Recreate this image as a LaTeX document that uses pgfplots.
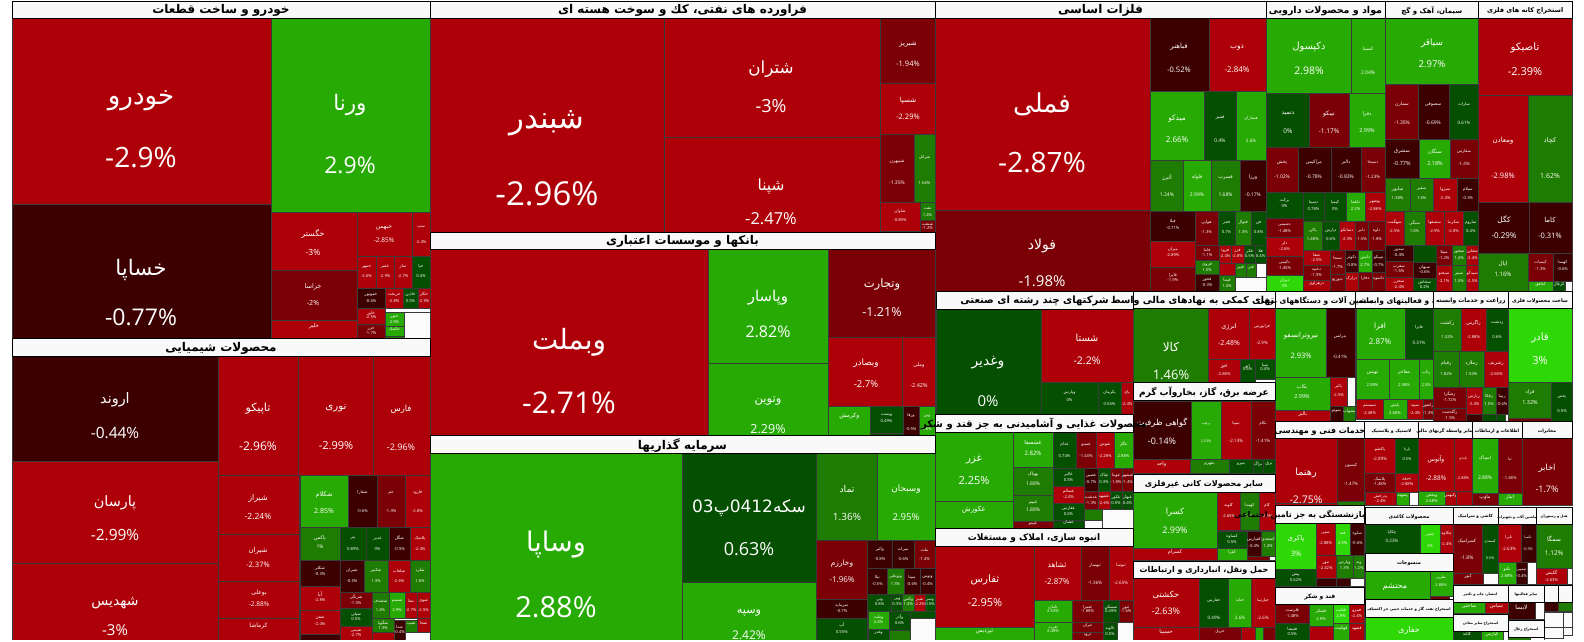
\documentclass[border=0pt]{standalone}
\usepackage{fontspec}
\usepackage{pgfplots}
\pgfplotsset{compat=1.18}
\setmainfont{Open Sans}
\newfontfamily\arabicfont[Script=Arabic]{DejaVu Sans}
\TeXXeTstate=1

\definecolor{R3}{HTML}{AE0008}
\definecolor{R2}{HTML}{7A0005}
\definecolor{R1}{HTML}{3D0000}
\definecolor{G0}{HTML}{054F00}
\definecolor{G1}{HTML}{1E7D00}
\definecolor{G2}{HTML}{27AB04}
\definecolor{G3}{HTML}{2ED806}
\definecolor{HD}{HTML}{F9F9F9}
\definecolor{WW}{HTML}{FBFBFB}
\definecolor{edge}{HTML}{3A3A3A}

\newcommand{\ar}[1]{{\arabicfont\beginR #1\endR}}
% x0 y0 x1 y1 colour
\newcommand{\Tile}[5]{\addplot[fill=#5,draw=edge,line width=.45pt,forget plot] coordinates {(#1,#2)(#3,#2)(#3,#4)(#1,#4)} --cycle;}
% xc yname ypct size name pct
\newcommand{\Lab}[6]{%
  \node[text=white,inner sep=0pt,font=\fontsize{\fpeval{0.93*#4}}{#4}\selectfont] at (axis cs:#1,{#2+0.14*#4}) {\ar{#5}};
  \node[text=white,inner sep=0pt,font=\fontsize{#4}{#4}\selectfont] at (axis cs:#1,#3) {#6};}
% small tile with its label worked out from the box
\newcommand{\Qt}[7][4.2]{%
  \Tile{#2}{#3}{#4}{#5}{#6}
  \node[text=white,inner sep=0pt,font=\fontsize{#1}{#1}\selectfont] at (axis cs:{(#2+#4)/2},{#3+0.34*(#5-#3)}) {\ar{#7}};}
% header text comes with its own \beginR ... \endR
\newcommand{\Hd}[6]{%
  \addplot[fill=HD,draw=black,line width=.8pt,forget plot] coordinates {(#1,#2)(#3,#2)(#3,#4)(#1,#4)} --cycle;
  \node[text=black,inner sep=0pt,font=\fontsize{#5}{#5}\selectfont\bfseries] at (axis cs:{(#1+#3)/2},{(#2+#4)/2+1.3}) {\arabicfont #6};}
% pct for small tiles
\newcommand{\Pc}[5][4.2]{\node[text=white,inner sep=0pt,font=\fontsize{#1}{#1}\selectfont] at (axis cs:{(#2+#3)/2},#4) {#5};}

\begin{document}
\begin{tikzpicture}
\begin{axis}[
  scale only axis, width=1584pt, height=642pt,
  xmin=0, xmax=1584, ymin=0, ymax=642, y dir=reverse,
  hide axis, clip=true
]
\addplot[fill=white,draw=none,forget plot] coordinates {(0,0)(1584,0)(1584,642)(0,642)} --cycle;

% --- khodro
\Tile{12}{18}{271}{204}{R3}\Lab{141}{97}{158}{28}{خودرو}{-2.9\%}
\Tile{271}{18}{430}{212}{G2}\Lab{350}{102}{165}{23}{ورنا}{2.9\%}
\Tile{12}{204}{271}{338}{R1}\Lab{141}{267}{317}{23}{خساپا}{-0.77\%}
\Tile{271}{212}{357}{270}{R3}\Lab{313}{233}{252}{8.5}{خگستر}{-3\%}
\Tile{357}{212}{412}{256}{R3}\Lab{384}{227}{240}{6.5}{خبهمن}{-2.85\%}
\Qt{412}{212}{430}{256}{R3}{سپ}\Pc{412}{430}{242}{-2.4\%}
\Tile{271}{270}{357}{320}{R2}\Lab{313}{286}{303}{7}{خراسا}{-2\%}
\Qt[5.5]{271}{320}{357}{338}{R3}{خلیر}
\Qt{357}{256}{376}{288}{R3}{خمهر}\Pc{357}{376}{276}{-2.6\%}
\Qt{376}{256}{394}{288}{R3}{خفنر}\Pc{376}{394}{276}{-2.9\%}
\Qt{394}{256}{412}{288}{R3}{ساز}\Pc{394}{412}{276}{-2.7\%}
\Qt{412}{256}{430}{288}{G0}{خپا}\Pc{412}{430}{276}{0.4\%}
\Qt{357}{288}{385}{308}{R1}{خموتور}\Pc{357}{385}{301}{-0.6\%}
\Qt{385}{288}{403}{308}{R3}{خریخت}\Pc{385}{403}{301}{-2.8\%}
\Qt{403}{288}{418}{308}{G0}{خاذین}\Pc{403}{418}{301}{0.5\%}
\Qt{418}{288}{430}{308}{R3}{خکار}\Pc{418}{430}{301}{-2.9\%}
\Qt{357}{308}{385}{324}{R3}{خاور}\Pc{357}{385}{317}{-2.5\%}
\Qt{357}{324}{385}{338}{R2}{خزر}\Pc{357}{385}{333}{-1.7\%}
\Qt{385}{312}{404}{326}{G2}{ختور}\Pc{385}{404}{322}{2.9\%}
\Qt{385}{326}{404}{336}{G2}{خکمك}
\Tile{385}{336}{404}{338}{G1}
\Tile{404}{312}{430}{338}{WW}

% --- chemicals
\Tile{12}{356}{218}{461}{R1}\Lab{115}{398}{433}{15.5}{اروند}{-0.44\%}
\Tile{12}{461}{218}{563}{R3}\Lab{115}{501}{535}{15.5}{پارسان}{-2.99\%}
\Tile{12}{563}{218}{640}{R3}\Lab{115}{601}{630}{15}{شهدیس}{-3\%}
\Tile{218}{356}{298}{475}{R3}\Lab{258}{407}{446}{12}{تاپیکو}{-2.96\%}
\Tile{298}{356}{373}{475}{R3}\Lab{336}{407}{446}{11}{نوری}{-2.99\%}
\Tile{373}{356}{430}{475}{R3}\Lab{401}{408}{447}{9}{فارس}{-2.96\%}
\Tile{218}{475}{299}{534}{R3}\Lab{258}{497}{516}{8.5}{شیراز}{-2.24\%}
\Tile{218}{534}{299}{581}{R3}\Lab{258}{550}{565}{7.5}{شیران}{-2.37\%}
\Tile{218}{581}{299}{618}{R3}\Lab{259}{592}{604}{6.5}{بوعلی}{-2.88\%}
\Qt[6]{218}{618}{299}{640}{R3}{کرماشا}
\Tile{300}{475}{348}{527}{G2}\Lab{324}{494}{511}{7}{شکلام}{2.85\%}
\Qt{348}{475}{377}{527}{R1}{شفارا}\Pc{348}{377}{511}{-0.6\%}
\Qt{377}{475}{405}{527}{R2}{جم}\Pc{377}{405}{511}{-1.3\%}
\Qt{405}{475}{430}{527}{R3}{فارود}\Pc{405}{430}{511}{-2.8\%}
\Qt[5]{300}{527}{340}{560}{G1}{پاکس}\Pc[5]{300}{340}{547}{1\%}
\Qt{340}{527}{366}{560}{G0}{پتر}\Pc{340}{366}{549}{0.89\%}
\Qt{366}{527}{389}{560}{G0}{غدیر}\Pc{366}{389}{549}{0\%}
\Qt{389}{527}{410}{560}{R1}{شگل}\Pc{389}{410}{549}{-0.5\%}
\Qt{410}{527}{430}{560}{R3}{پلاسک}\Pc{410}{430}{549}{-2.4\%}
\Qt{300}{560}{340}{586}{R1}{شکلر}\Pc{300}{340}{574}{-0.3\%}
\Qt{340}{560}{364}{592}{R1}{شیران}\Pc{340}{364}{581}{-0.5\%}
\Qt{364}{560}{388}{592}{G1}{شکبیر}\Pc{364}{388}{581}{1.3\%}
\Qt{388}{560}{410}{592}{R3}{شلعاب}\Pc{388}{410}{581}{-2.6\%}
\Qt{410}{560}{430}{592}{G1}{شلرد}\Pc{410}{430}{581}{1.6\%}
\Qt[5]{300}{586}{340}{610}{R3}{آبا}\Pc{300}{340}{600}{-2.8\%}
\Qt{300}{610}{340}{634}{R3}{شفن}\Pc{300}{340}{624}{-2.4\%}
\Tile{300}{634}{340}{640}{R1}
\Qt{340}{592}{372}{608}{R2}{شرنگی}\Pc{340}{372}{603}{-1.5\%}
\Qt{340}{608}{372}{626}{G0}{شپلی}\Pc{340}{372}{619}{0.5\%}
\Qt{340}{626}{372}{640}{R3}{شیمی}\Pc{340}{372}{635}{-2.7\%}
\Qt{372}{592}{389}{618}{G1}{شصدف}\Pc{372}{389}{610}{1.4\%}
\Qt{389}{592}{405}{618}{G2}{شسم}\Pc{389}{405}{610}{2.9\%}
\Qt{405}{592}{417}{618}{R3}{نشا}\Pc{405}{417}{610}{-2.7\%}
\Qt{417}{592}{430}{618}{R3}{شوی}\Pc{417}{430}{610}{-2.5\%}
\Qt{372}{618}{394}{632}{G1}{شگویا}\Pc{372}{394}{628}{1.3\%}
\Tile{372}{632}{394}{640}{R3}
\Qt{394}{620}{405}{640}{R1}{شدا}\Pc{394}{405}{632}{-0.4\%}
\Qt{405}{620}{417}{632}{G1}{شیب}
\Qt{417}{618}{430}{632}{R3}{شجا}
\Tile{405}{632}{430}{640}{WW}

% --- oil products
\Tile{430}{18}{664}{232}{R3}\Lab{547}{119}{194}{33}{شبندر}{-2.96\%}
\Tile{664}{18}{880}{137}{R3}\Lab{771}{67}{106}{18}{شتران}{-3\%}
\Tile{664}{137}{880}{232}{R3}\Lab{771}{184}{219}{16.5}{شپنا}{-2.47\%}
\Tile{880}{18}{935}{83}{R2}\Lab{908}{43}{64}{7.5}{شبریز}{-1.94\%}
\Tile{880}{83}{935}{134.5}{R3}\Lab{908}{100}{117}{7.5}{شسپا}{-2.29\%}
\Tile{880}{134.5}{914}{202}{R2}\Lab{897}{161}{183}{5}{شیبهرن}{-1.35\%}
\Qt{914}{134.5}{935}{202}{G1}{شرانل}\Pc{914}{935}{183}{1.66\%}
\Qt{880}{202}{920}{231}{R3}{شاوان}\Pc{880}{920}{220}{-0.89\%}
\Qt{920}{202}{935}{220}{G1}{نفت}\Pc{920}{935}{215}{1.4\%}
\Qt{920}{220}{935}{232}{R2}{شنفت}\Pc{920}{935}{228}{-1.2\%}

% --- banks
\Tile{430}{249}{708}{435}{R3}\Lab{569}{338}{403}{30}{وبملت}{-2.71\%}
\Tile{708}{249}{828.5}{363}{G2}\Lab{768}{295}{332}{16}{وپاسار}{2.82\%}
\Tile{708}{363}{828.5}{435}{G2}\Lab{768}{399}{429}{12.5}{وتوین}{2.29\%}
\Tile{828.5}{249}{935}{337}{R2}\Lab{882}{283}{312}{12.5}{وتجارت}{-1.21\%}
\Tile{828.5}{337}{902.5}{406}{R3}\Lab{866}{362}{384}{9.5}{وبصادر}{-2.7\%}
\Tile{902.5}{337}{935}{406}{R3}\Lab{919}{364}{386}{5.5}{وملی}{-2.42\%}
\Qt[6]{828.5}{406}{870}{435}{G2}{وکرمش}
\Qt{870}{406}{903}{433}{G0}{وپست}\Pc{870}{903}{421}{0.49\%}
\Tile{870}{433}{903}{435}{G0}
\Qt{903}{406}{919}{435}{R1}{ورفا}\Pc{903}{919}{429}{-0.5\%}
\Qt{919}{406}{935}{435}{G2}{وبن}\Pc{919}{935}{429}{2.6\%}

% --- investment
\Tile{430}{453}{682}{640}{G2}\Lab{556}{540}{607}{29}{وساپا}{2.88\%}
\Tile{682}{453}{816}{582}{G0}
\node[text=white,inner sep=0pt,font=\fontsize{17}{18}\selectfont] at (axis cs:749,508) {{\arabicfont\beginR سکه\beginL 0412\endL{}پ\beginL 03\endL{}\endR}};
\node[text=white,inner sep=0pt,font=\fontsize{18}{18}\selectfont] at (axis cs:749,549) {0.63\%};
\Tile{682}{582}{816}{640}{G2}\Lab{749}{611}{635}{12}{وسپه}{2.42\%}
\Tile{816}{453}{877}{540}{G1}\Lab{847}{488}{517}{10}{تماد}{1.36\%}
\Tile{877}{453}{935}{540}{G2}\Lab{906}{488}{517}{9.5}{وسبحان}{2.95\%}
\Tile{816}{540}{867.7}{599}{R2}\Lab{842}{562}{580}{8}{وخارزم}{-1.96\%}
\Qt{867.7}{540}{892}{568}{R1}{والبر}\Pc{867.7}{892}{559}{-0.8\%}
\Qt{892}{540}{914}{568}{R1}{میراث}\Pc{892}{914}{559}{-0.6\%}
\Qt{914}{540}{935}{568}{R2}{ملت}\Pc{914}{935}{559}{-1.4\%}
\Qt{867.7}{568}{887}{594}{R1}{نیلا}\Pc{867.7}{887}{584}{-0.5\%}
\Qt{887}{568}{904}{594}{G1}{وبوعلی}\Pc{887}{904}{584}{1.3\%}
\Qt{904}{568}{920}{594}{R1}{سیتا}\Pc{904}{920}{584}{-0.6\%}
\Qt{920}{568}{935}{594}{R1}{وتوس}\Pc{920}{935}{584}{-0.4\%}
\Qt{816}{599}{867.7}{618}{R1}{سرمایه}\Pc{816}{867.7}{611}{-0.7\%}
\Qt{816}{618}{867.7}{640}{G0}{آپ}\Pc{816}{867.7}{632}{0.55\%}
\Qt{867.7}{594}{891.6}{611}{G0}{وتی}\Pc{867.7}{891.6}{604}{0.8\%}
\Qt{891.6}{594}{902.7}{611}{G0}{وپی}\Pc{891.6}{902.7}{604}{0.3\%}
\Qt{902.7}{594}{914}{611}{G1}{وکس}\Pc{902.7}{914}{604}{1.4\%}
\Qt{914}{594}{925}{611}{R3}{شیر}\Pc{914}{925}{604}{-2.2\%}
\Qt{925}{594}{935}{611}{G0}{وسر}\Pc{925}{935}{604}{0.5\%}
\Qt{868}{611}{889}{629}{G2}{وملت}\Pc{868}{889}{622}{2.4\%}
\Qt{868}{629}{889}{640}{G0}{وغدر}
\Qt{889}{611}{910}{630}{G0}{وآذر}\Pc{889}{910}{623}{0.6\%}
\Tile{889}{630}{910}{640}{G1}
\Tile{910}{611}{935}{618}{G0}
\Tile{910}{618}{935}{640}{WW}

% --- base metals
\Tile{935}{18}{1150.7}{210}{R3}\Lab{1042}{100}{163}{28}{فملی}{-2.87\%}
\Tile{935}{210}{1150.7}{291}{R2}\Lab{1042}{244}{281}{15}{فولاد}{-1.98\%}
\Tile{1150.7}{18}{1209}{91}{R1}\Lab{1179}{46}{70}{7.5}{فباهنر}{-0.52\%}
\Tile{1209}{18}{1266}{91}{R3}\Lab{1237}{46}{70}{8}{ذوب}{-2.84\%}
\Tile{1150.7}{91}{1204}{160}{G2}\Lab{1177}{117}{140}{8}{میدکو}{2.66\%}
\Tile{1204}{91}{1236.5}{160}{G0}\Lab{1220}{117}{141}{5}{فمیر}{0.4\%}
\Tile{1236.5}{91}{1266}{160}{G2}\Lab{1251}{118}{141}{4.5}{فسازان}{2.6\%}
\Qt[5]{1150.7}{160}{1183}{211}{G1}{آلبرز}\Pc[5]{1150.7}{1183}{195}{1.24\%}
\Qt[5]{1183}{160}{1211}{211}{G2}{فلوله}\Pc[5]{1183}{1211}{195}{2.99\%}
\Qt[5]{1211}{160}{1240}{211}{G1}{فسرب}\Pc[5]{1211}{1240}{195}{1.68\%}
\Qt[5]{1240}{160}{1266}{211}{R1}{ورزا}\Pc[5]{1240}{1266}{195}{-0.17\%}
\Qt{1150.7}{211}{1195}{241}{R1}{فیلا}\Pc{1150.7}{1195}{228}{-0.71\%}
\Qt{1150.7}{241}{1195}{267}{R3}{میزان}\Pc{1150.7}{1195}{255}{-2.89\%}
\Qt{1150.7}{267}{1195}{291}{R2}{فایرا}\Pc{1150.7}{1195}{280}{-1.9\%}
\Qt{1195}{211}{1218}{245}{R2}{هوایی}\Pc{1195}{1218}{232}{-1.3\%}
\Qt{1218}{211}{1235}{245}{G0}{فجر}\Pc{1218}{1235}{232}{0.7\%}
\Qt{1235}{211}{1251}{245}{G1}{فنوال}\Pc{1235}{1251}{232}{1.3\%}
\Qt{1251}{211}{1266}{245}{G0}{فن}\Pc{1251}{1266}{232}{0.8\%}
\Qt{1195}{245}{1219}{260}{R2}{فاما}\Pc{1195}{1219}{255}{-1.1\%}
\Qt{1195}{260}{1219}{274}{G1}{فروی}\Pc{1195}{1219}{270}{1.5\%}
\Qt{1195}{274}{1219}{291}{R1}{فخوز}\Pc{1195}{1219}{285}{-0.3\%}
\Qt{1219}{245}{1231}{263}{R3}{فرود}\Pc{1219}{1231}{256}{-2.4\%}
\Qt{1231}{245}{1244}{263}{R3}{فزر}\Pc{1231}{1244}{256}{-2.8\%}
\Qt{1244}{245}{1255}{263}{G0}{فکر}\Pc{1244}{1255}{256}{0.5\%}
\Qt{1255}{245}{1266}{263}{G0}{فلا}\Pc{1255}{1266}{256}{0.4\%}
\Tile{1219}{263}{1235}{275}{R3}
\Qt{1219}{275}{1235}{291}{G1}{فپنتا}\Pc{1219}{1235}{286}{1.4\%}
\Qt{1235}{263}{1246}{277}{G1}{فبیر}
\Qt{1246}{263}{1256}{277}{G1}{فنر}
\Tile{1256}{263}{1266}{277}{WW}
\Tile{1235}{277}{1266}{291}{WW}

% --- pharma
\Tile{1266}{18}{1351.7}{93}{G2}\Lab{1309}{46}{71}{10.5}{دکپسول}{2.98\%}
\Tile{1351.7}{18}{1385}{93}{G2}\Lab{1368}{48}{73}{5}{کسینا}{2.04\%}
\Tile{1266}{93}{1309}{147}{G0}\Lab{1288}{113}{131}{6.5}{دتمید}{0\%}
\Tile{1309}{93}{1349}{147}{R2}\Lab{1329}{113}{131}{6.5}{نیبکو}{-1.17\%}
\Tile{1349}{93}{1385}{147}{G2}\Lab{1367}{113}{131}{5.5}{دفرا}{2.99\%}
\Tile{1266}{147}{1298}{192}{R2}\Lab{1282}{162}{177}{5}{پخش}{-1.02\%}
\Tile{1298}{147}{1331}{192}{R1}\Lab{1314}{162}{177}{5}{مراکیس}{-0.78\%}
\Tile{1331}{147}{1361.5}{192}{R1}\Lab{1346}{162}{177}{5}{دالبر}{-0.83\%}
\Tile{1361.5}{147}{1385}{192}{R2}\Lab{1373}{162}{177}{4.5}{دسبحا}{-1.23\%}
\Qt{1266}{192}{1303}{218}{G0}{برکت}\Pc{1266}{1303}{206}{0\%}
\Qt{1303}{192}{1324}{221}{G0}{دسینا}\Pc{1303}{1324}{209}{0.78\%}
\Qt{1324}{192}{1346}{221}{G0}{کیمیا}\Pc{1324}{1346}{209}{0\%}
\Qt{1346}{192}{1365}{221}{G2}{دلقما}\Pc{1346}{1365}{209}{2.2\%}
\Qt{1365}{192}{1385}{221}{R3}{بوشهر}\Pc{1365}{1385}{209}{-2.88\%}
\Qt{1266}{218}{1303}{237}{R2}{دشیمی}\Pc{1266}{1303}{231}{-1.48\%}
\Qt{1266}{237}{1303}{256}{R3}{دلر}\Pc{1266}{1303}{249}{-2.6\%}
\Qt{1266}{256}{1303}{275}{R2}{دکیمی}\Pc{1266}{1303}{268}{-1.45\%}
\Qt{1266}{275}{1303}{291}{G3}{دیران}\Pc{1266}{1303}{286}{3\%}
\Qt{1303}{221}{1322.7}{250}{G1}{پاکی}\Pc{1303}{1322.7}{239}{1.48\%}
\Qt{1322.7}{221}{1339}{250}{G0}{دپارس}\Pc{1322.7}{1339}{239}{0.6\%}
\Qt{1339}{221}{1355}{250}{R3}{دسانکو}\Pc{1339}{1355}{239}{-2.3\%}
\Qt{1355}{221}{1368}{250}{R2}{دلبر}\Pc{1355}{1368}{239}{-1.5\%}
\Qt{1368}{221}{1385}{250}{R2}{داوه}\Pc{1368}{1385}{239}{-1.8\%}
\Qt{1303}{250}{1330}{265}{R3}{شفا}\Pc{1303}{1330}{260}{-2.5\%}
\Qt{1303}{265}{1330}{280}{R2}{دعبید}\Pc{1303}{1330}{275}{-1.9\%}
\Qt{1303}{280}{1330}{291}{R3}{دزهراوی}
\Qt{1330}{250}{1345}{274}{R2}{سبحا}\Pc{1330}{1345}{267}{-1.7\%}
\Qt{1345}{250}{1358.3}{272}{R1}{دکوثر}\Pc{1345}{1358.3}{265}{-0.8\%}
\Qt{1358.3}{250}{1372}{272}{G2}{دامین}\Pc{1358.3}{1372}{265}{2.7\%}
\Qt{1372}{250}{1385}{272}{R1}{تیپیکو}\Pc{1372}{1385}{265}{-0.7\%}
\Qt{1330}{274}{1345}{291}{R2}{دتوزیع}
\Qt{1345}{272}{1358.3}{291}{R3}{درازک}
\Qt{1358.3}{272}{1372}{291}{R2}{دفارا}
\Qt{1372}{272}{1385}{291}{R2}{داسوه}

% --- cement
\Tile{1385}{18}{1478.5}{84}{G2}\Lab{1432}{42}{64}{9.5}{سیاقر}{2.97\%}
\Tile{1385}{84}{1418}{139}{R2}\Lab{1402}{104}{123}{5}{سمازن}{-1.35\%}
\Tile{1418}{84}{1449}{139}{R1}\Lab{1433}{104}{123}{5}{سصوفی}{-0.69\%}
\Tile{1449}{84}{1478.5}{139}{G0}\Lab{1464}{104}{123}{4.5}{سارات}{0.61\%}
\Tile{1385}{139}{1419}{178}{R1}\Lab{1402}{151}{164}{5.5}{سشرق}{-0.77\%}
\Tile{1419}{139}{1450}{178}{G2}\Lab{1435}{151}{164}{5.5}{سنگان}{2.18\%}
\Tile{1450}{139}{1478.5}{178}{R2}\Lab{1464}{151}{164}{4.5}{سفارس}{-1.4\%}
\Qt[4.8]{1385}{178}{1410}{211}{G1}{سایور}\Pc{1385}{1410}{198}{1.38\%}
\Qt{1410}{178}{1433.5}{211}{G1}{سفیر}\Pc{1410}{1433.5}{198}{1.6\%}
\Qt{1433.5}{178}{1457}{211}{R3}{سبزوا}\Pc{1433.5}{1457}{198}{-2.4\%}
\Qt{1457}{178}{1478.5}{211}{R1}{سیلام}\Pc{1457}{1478.5}{198}{-0.3\%}
\Qt{1385}{211}{1404}{245}{R3}{سهگمت}\Pc{1385}{1404}{231}{-2.5\%}
\Qt{1404}{211}{1425}{245}{G1}{سنگی}\Pc{1404}{1425}{231}{1.6\%}
\Qt{1425}{211}{1444}{245}{R3}{سصفها}\Pc{1425}{1444}{231}{-2.9\%}
\Qt{1444}{211}{1463}{245}{R3}{سکرما}\Pc{1444}{1463}{231}{-2.8\%}
\Qt{1463}{211}{1478.5}{245}{G0}{ساروم}\Pc{1463}{1478.5}{231}{0.4\%}
\Qt{1385}{245}{1413}{261}{R1}{سدور}\Pc{1385}{1413}{255}{-0.4\%}
\Qt{1385}{261}{1413}{277}{R2}{سغرب}\Pc{1385}{1413}{271}{-1.6\%}
\Qt{1385}{277}{1413}{291}{R3}{سخزر}\Pc{1385}{1413}{287}{-2.4\%}
\Tile{1413}{245}{1436}{262}{G0}
\Qt{1413}{262}{1436}{278}{R1}{سبهان}\Pc{1413}{1436}{272}{-0.6\%}
\Qt{1413}{278}{1436}{291}{G0}{سخاش}\Pc{1413}{1436}{287}{0.4\%}
\Qt{1436}{245}{1452}{265}{R2}{سیلا}\Pc{1436}{1452}{258}{-1.2\%}
\Qt{1452}{245}{1466}{265}{G1}{سخوز}\Pc{1452}{1466}{258}{1.4\%}
\Qt{1466}{245}{1478.5}{265}{R3}{سقاین}\Pc{1466}{1478.5}{258}{-2.4\%}
\Qt{1436}{265}{1452}{291}{R3}{سبجنو}\Pc{1436}{1452}{281}{-2.1\%}
\Qt{1452}{265}{1466}{291}{G1}{سنیر}\Pc{1452}{1466}{281}{1.3\%}
\Qt{1466}{265}{1478.5}{291}{R3}{سیدکو}\Pc{1466}{1478.5}{281}{-2.5\%}

% --- mining
\Tile{1478.5}{18}{1572}{95}{R3}\Lab{1525}{46}{72}{11}{تاصیکو}{-2.39\%}
\Tile{1478.5}{95}{1528}{202}{R3}\Lab{1503}{140}{176}{7.5}{ومعادن}{-2.98\%}
\Tile{1528}{95}{1572}{202}{G1}\Lab{1550}{140}{176}{7}{کچاد}{1.62\%}
\Tile{1478.5}{202}{1529}{253}{R1}\Lab{1504}{219}{236}{8}{کگل}{-0.29\%}
\Tile{1529}{202}{1572}{253}{R1}\Lab{1550}{219}{236}{7.5}{کاما}{-0.31\%}
\Tile{1478.5}{253}{1528}{291}{G1}\Lab{1503}{263}{274}{6}{اپال}{1.16\%}
\Qt{1528}{253}{1553}{281}{R2}{کیمیات}\Pc{1528}{1553}{269}{-1.3\%}
\Qt{1553}{253}{1572}{281}{R1}{کهمدا}\Pc{1553}{1572}{269}{-0.6\%}
\Qt{1528}{281}{1553}{291}{G2}{کبافق}
\Qt{1553}{281}{1565}{291}{G0}{کزغال}
\Tile{1565}{281}{1572}{291}{WW}

% --- conglomerates
\Tile{936}{309}{1041}{414}{G0}\Lab{988}{361}{401}{15}{وغدیر}{0\%}
\Tile{1041}{309}{1133}{382}{R3}\Lab{1087}{336}{361}{10.5}{شستا}{-2.2\%}
\Qt{1041}{382}{1098}{414}{G0}{وپارس}\Pc{1041}{1098}{400}{0\%}
\Qt{1098}{382}{1121}{414}{G0}{پکرمان}\Pc{1098}{1121}{404}{0.55\%}
\Qt{1121}{382}{1133}{414}{R3}{پای}\Pc{1121}{1133}{404}{-2.4\%}

% --- food
\Tile{935}{432}{1013}{501}{G2}\Lab{974}{458}{481}{11}{غزر}{2.25\%}
\Qt[7]{935}{501}{1013}{528}{G2}{عکورش}
\Tile{1013}{432}{1053}{467}{G2}\Lab{1033}{442}{453}{6}{غشصفا}{2.82\%}
\Tile{1013}{467}{1053}{495}{G1}\Lab{1033}{474}{484}{5}{بهپاک}{1.88\%}
\Tile{1013}{495}{1053}{521}{G1}\Lab{1033}{502}{510}{5}{غبیم}{1.88\%}
\Qt{1013}{521}{1053}{528}{R2}{غپینو}
\Qt{1053}{432}{1076}{468}{G0}{غدام}\Pc{1053}{1076}{456}{0.74\%}
\Qt{1076}{432}{1096}{468}{R2}{غمینو}\Pc{1076}{1096}{456}{-1.43\%}
\Qt{1096}{432}{1114}{468}{R3}{غنوش}\Pc{1096}{1114}{456}{-2.28\%}
\Qt{1114}{432}{1133}{468}{G2}{غگل}\Pc{1114}{1133}{456}{2.88\%}
\Qt{1053}{468}{1084}{486}{G0}{غالبر}\Pc{1053}{1084}{480}{0.5\%}
\Qt{1053}{486}{1084}{503}{R3}{غسالم}\Pc{1053}{1084}{497}{-2.4\%}
\Qt{1053}{503}{1084}{520}{G0}{غفارس}\Pc{1053}{1084}{514}{0.6\%}
\Qt{1053}{520}{1084}{528}{G0}{غشان}
\Qt{1084}{468}{1098}{491}{R1}{غصین}\Pc{1084}{1098}{482}{-0.7\%}
\Qt{1098}{468}{1110}{491}{G0}{غپاک}\Pc{1098}{1110}{482}{0.3\%}
\Qt{1110}{468}{1122}{491}{R2}{غویتا}\Pc{1110}{1122}{482}{-1.8\%}
\Qt{1122}{468}{1133}{491}{R2}{غبشهر}\Pc{1122}{1133}{482}{-1.4\%}
\Qt{1084}{491}{1098}{509}{R2}{غدشت}\Pc{1084}{1098}{503}{-1.3\%}
\Qt{1098}{491}{1110}{509}{R3}{غشهد}\Pc{1098}{1110}{503}{-2.6\%}
\Qt{1110}{491}{1122}{509}{G0}{غکور}\Pc{1110}{1122}{503}{0.5\%}
\Qt{1122}{491}{1133}{509}{G0}{غبهار}\Pc{1122}{1133}{503}{0.4\%}
\Tile{1084}{509}{1102}{520}{G1}
\Tile{1102}{509}{1133}{528}{WW}
\Tile{1084}{520}{1102}{528}{WW}

% --- housing
\Tile{935}{546}{1034}{627}{R3}\Lab{985}{578}{603}{11}{ثفارس}{-2.95\%}
\Tile{1034}{546}{1081}{600}{R3}\Lab{1057}{564}{582}{8}{ثشاهد}{-2.87\%}
\Tile{1081}{546}{1109}{600}{R2}\Lab{1095}{565}{583}{4.5}{ثبهساز}{-1.36\%}
\Tile{1109}{546}{1133}{600}{R3}\Lab{1121}{565}{583}{4.5}{ثنوسا}{-2.65\%}
\Qt{1034}{600}{1072}{622}{G2}{ثامان}\Pc{1034}{1072}{611}{2.53\%}
\Qt{1034}{622}{1072}{640}{G2}{ثغرب}\Pc{1034}{1072}{631}{2.48\%}
\Qt{1072}{600}{1103}{622}{R2}{ثعمرا}\Pc{1072}{1103}{611}{-1.88\%}
\Qt{1072}{622}{1103}{632}{R2}{ثتران}
\Qt{1072}{632}{1103}{640}{R2}{ثرود}
\Qt{1103}{600}{1119}{622}{G0}{ثمسکن}\Pc{1103}{1119}{611}{0.49\%}
\Qt{1119}{600}{1133}{622}{R2}{ثنور}\Pc{1119}{1133}{611}{-1.6\%}
\Qt{1103}{622}{1117}{640}{G0}{ثالوند}\Pc{1103}{1117}{634}{0.5\%}
\Tile{1117}{622}{1133}{640}{WW}
\Qt[5.5]{935}{627}{1034}{640}{G2}{ثپردیس}

% --- auxiliary finance
\Tile{1133}{308}{1208}{382}{G1}\Lab{1171}{345}{375}{13}{کالا}{1.46\%}
\Tile{1208}{308}{1249}{359}{R3}\Lab{1229}{326}{343}{7}{انرژی}{-2.48\%}
\Tile{1249}{308}{1275}{359}{R3}\Lab{1262}{326}{343}{4.5}{فرابورس}{-2.9\%}
\Qt{1208}{359}{1240}{382}{R3}{افق}\Pc{1208}{1240}{374}{-2.88\%}
\Qt{1240}{359}{1255}{382}{G0}{اتو}\Pc{1240}{1255}{369}{0.6\%}
\Qt{1255}{359}{1275}{379}{G0}{سپا}\Pc{1255}{1275}{369}{0.4\%}
\Tile{1255}{379}{1275}{382}{WW}

% --- power
\Tile{1133}{401}{1191}{459}{R1}\Lab{1162}{422}{441}{9}{\beginR گواهی ظرفیت\endR}{-0.14\%}
\Tile{1191}{401}{1221}{459}{G2}\Lab{1206}{423}{441}{3.6}{برقیت}{2.33\%}
\Tile{1221}{401}{1251}{459}{R3}\Lab{1236}{423}{441}{4.5}{بمپنا}{-2.13\%}
\Tile{1251}{401}{1275}{459}{R2}\Lab{1263}{423}{441}{4.5}{بکام}{-1.41\%}
\Qt[5]{1133}{459}{1190}{473}{R3}{واحد}
\Qt{1190}{459}{1229}{473}{G1}{بجهرم}
\Qt{1229}{459}{1253}{473}{G0}{بنیرو}
\Qt{1253}{459}{1263}{473}{G0}{بزاگ}
\Qt{1263}{459}{1275}{473}{G0}{برق}

% --- non metal minerals
\Tile{1133}{492}{1217}{548}{G2}\Lab{1175}{511}{530}{9}{کسرا}{2.99\%}
\Qt{1217}{492}{1240}{530}{R3}{کلوند}\Pc{1217}{1240}{516}{-2.65\%}
\Qt{1240}{492}{1259}{530}{G1}{کهمدا}\Pc{1240}{1259}{516}{1.6\%}
\Qt{1259}{492}{1275}{530}{R3}{کام}\Pc{1259}{1275}{516}{-2.5\%}
\Qt{1217}{531}{1247}{548}{G0}{کساوه}\Pc{1217}{1247}{542}{0.5\%}
\Qt{1247}{531}{1261}{556}{R1}{کفپارس}\Pc{1247}{1261}{546}{-0.4\%}
\Qt{1261}{531}{1275}{556}{G1}{کسعدی}\Pc{1261}{1275}{546}{1.4\%}
\Qt{1217}{548}{1247}{560}{G2}{کفرا}
\Qt[5]{1133}{548}{1217}{560}{R3}{کسرام}
\Tile{1247}{556}{1269}{560}{R2}
\Tile{1269}{556}{1275}{560}{WW}

% --- transport
\Tile{1133}{578}{1199}{627}{R3}\Lab{1166}{594}{611}{9}{حکشتی}{-2.63\%}
\Tile{1199}{578}{1228}{627}{G0}\Lab{1214}{600}{618}{4.5}{حفارس}{0.49\%}
\Tile{1228}{578}{1251}{627}{G2}\Lab{1240}{600}{618}{4.5}{حتاید}{2.6\%}
\Tile{1251}{578}{1275}{627}{R3}\Lab{1263}{600}{618}{4.5}{حپارسا}{-2.6\%}
\Qt[5.5]{1133}{627}{1199}{640}{R3}{حسینا}
\Qt{1199}{627}{1241}{640}{R2}{حریل}
\Tile{1241}{627}{1255}{640}{R3}
\Tile{1255}{627}{1263}{640}{G2}
\Tile{1263}{627}{1275}{640}{R2}

% --- electrical machinery
\Tile{1275.5}{308.5}{1326}{377}{G2}\Lab{1301}{335}{356}{7.5}{نیروترانسفو}{2.93\%}
\Tile{1326}{308.5}{1355.5}{377}{R1}\Lab{1340}{336}{357}{4.5}{بترانس}{-0.41\%}
\Tile{1275.5}{377}{1330}{410}{G2}\Lab{1302}{386}{397}{5.5}{بکاب}{2.99\%}
\Qt{1330}{377}{1347}{406}{R3}{بالبر}\Pc{1330}{1347}{395}{-2.5\%}
\Tile{1347}{377}{1355.5}{406}{WW}
\Qt[5]{1275.5}{410}{1330}{421}{R3}{بالبر}
\Qt{1330}{406}{1343}{421}{R1}{بموتو}
\Qt{1343}{406}{1355.5}{421}{G1}{بشهاب}

% --- computing
\Tile{1356}{308.5}{1405}{359}{G2}\Lab{1380}{325}{342}{8}{افرا}{2.87\%}
\Tile{1405}{308.5}{1433.5}{359}{G0}\Lab{1419}{327}{343}{4.5}{فایرا}{0.31\%}
\Qt[4.8]{1356}{359}{1389}{399}{G2}{تهیس}\Pc{1356}{1389}{385}{2.98\%}
\Qt[4.8]{1389}{359}{1419}{399}{G2}{مفاخر}\Pc{1389}{1419}{385}{2.98\%}
\Qt{1419}{359}{1433.5}{399}{G2}{رتاپ}\Pc{1419}{1433.5}{385}{2.5\%}
\Qt{1356}{399}{1383}{419}{R3}{سیستم}\Pc{1356}{1383}{413}{-2.48\%}
\Qt{1383}{399}{1407}{419}{G2}{پایش}\Pc{1383}{1407}{413}{2.68\%}
\Qt{1407}{399}{1423}{419}{R3}{سپید}\Pc{1407}{1423}{413}{-2.4\%}
\Qt{1423}{399}{1433.5}{419}{R2}{رانفور}\Pc{1423}{1433.5}{413}{-1.3\%}

% --- agriculture
\Qt[4.8]{1433.5}{308.5}{1461}{351}{G1}{زکشت}\Pc{1433.5}{1461}{337}{1.32\%}
\Qt[4.8]{1461}{308.5}{1486}{351}{R3}{زاگرس}\Pc{1461}{1486}{337}{-2.88\%}
\Qt[4.5]{1486}{308.5}{1508}{351}{G0}{زدشت}\Pc{1486}{1508}{337}{0.6\%}
\Qt[4.8]{1433.5}{351}{1459}{387}{G1}{زقیام}\Pc{1433.5}{1459}{374}{1.82\%}
\Qt[4.8]{1459}{351}{1484}{387}{G1}{زملارد}\Pc{1459}{1484}{374}{1.53\%}
\Qt[4.8]{1484}{351}{1508}{387}{R3}{زشریف}\Pc{1484}{1508}{374}{-2.65\%}
\Qt{1433.5}{387}{1466}{408}{R2}{زشگزا}\Pc{1433.5}{1466}{400}{-1.72\%}
\Qt{1433.5}{408}{1466}{421}{R2}{زگلدشت}\Pc{1433.5}{1466}{418}{-1.5\%}
\Qt{1466}{387}{1482}{414}{R3}{زپارس}\Pc{1466}{1482}{404}{-2.4\%}
\Qt{1482}{387}{1496}{414}{G1}{زفکا}\Pc{1482}{1496}{404}{1.5\%}
\Qt{1496}{387}{1508}{414}{R1}{زبینا}\Pc{1496}{1508}{404}{-0.6\%}
\Tile{1466}{414}{1482}{421}{R1}
\Tile{1482}{414}{1496}{421}{G0}
\Tile{1496}{414}{1505}{421}{G0}
\Tile{1505}{414}{1508}{421}{WW}

% --- metal products
\Tile{1508}{308.5}{1572}{382}{G3}\Lab{1540}{336}{361}{11}{قادر}{3\%}
\Tile{1508}{382}{1551}{418}{G1}\Lab{1530}{391}{403}{5.5}{فزاد}{1.32\%}
\Tile{1551}{382}{1572}{421}{G0}\Lab{1562}{396}{411}{4.2}{پخش}{0.5\%}
\Tile{1508}{418}{1551}{421}{R2}

% --- technical services
\Tile{1275.5}{438.7}{1337}{503}{R3}\Lab{1306}{472}{500}{10.5}{رهنما}{-2.75\%}
\Tile{1337}{438.7}{1364.5}{501}{R2}\Lab{1351}{465}{484}{4.5}{کیسون}{-1.47\%}
\Tile{1337}{501}{1364.5}{505}{G1}
\Tile{1275.5}{503}{1337}{505}{R3}

% --- rubber
\Tile{1364.5}{438.7}{1395}{473}{R3}\Lab{1380}{449}{459}{4.5}{پاکشو}{-2.89\%}
\Tile{1395}{438.7}{1418.5}{473}{G0}\Lab{1407}{449}{459}{4}{پارتا}{0.5\%}
\Qt{1364.5}{473}{1395}{492}{R2}{پلاسک}\Pc{1364.5}{1395}{484}{-1.48\%}
\Qt{1395}{473}{1418.5}{492}{R3}{پیروز}\Pc{1395}{1418.5}{484}{-2.88\%}
\Qt{1365}{492}{1396}{505}{R3}{پدرخش}\Pc{1365}{1396}{501}{-2.4\%}
\Qt{1396}{492}{1409}{505}{G2}{پسهند}
\Tile{1409}{492}{1418.5}{505}{WW}

% --- other financial
\Tile{1418.5}{438.7}{1454}{491}{R3}\Lab{1436}{458}{478}{6.5}{وآتوس}{-2.88\%}
\Tile{1454}{438.7}{1472}{491}{R3}\Lab{1463}{458}{478}{4}{بایدی}{-2.88\%}
\Qt{1418.5}{491}{1445}{505}{G2}{وپخش}\Pc{1418.5}{1445}{501}{2.68\%}
\Qt{1445}{491}{1456}{505}{R3}{وکبهمن}
\Tile{1456}{491}{1472}{505}{R3}

% --- info and telecom
\Tile{1472}{438.7}{1498}{493}{G2}\Lab{1485}{458}{478}{5}{اسپاک}{2.88\%}
\Tile{1498}{438.7}{1522}{493}{R2}\Lab{1510}{458}{478}{4.2}{ثنا}{-1.48\%}
\Qt[5]{1472}{493}{1498}{505}{R2}{ماوپ}
\Qt[5]{1498}{493}{1522}{505}{G2}{انیاز}

% --- telecom
\Tile{1522}{438.7}{1572}{505}{R2}\Lab{1547}{467}{489}{9}{اخابر}{-1.7\%}

% --- pension
\Tile{1275.5}{522.7}{1316}{569}{G3}\Lab{1296}{538}{554}{7.5}{پاکری}{3\%}
\Qt{1316}{522.7}{1335}{555}{R3}{سپی}\Pc{1316}{1335}{543}{-2.88\%}
\Qt{1335}{522.7}{1350}{555}{G3}{فند}\Pc{1335}{1350}{543}{2.9\%}
\Qt{1350}{522.7}{1364.5}{555}{R1}{ساوه}\Pc{1350}{1364.5}{543}{-0.6\%}
\Qt{1316}{555}{1336}{578}{R3}{نبور}\Pc{1316}{1336}{568}{-2.42\%}
\Qt{1336}{555}{1353}{578}{G1}{وپارس}\Pc{1336}{1353}{568}{1.3\%}
\Qt{1353}{555}{1364.5}{578}{G1}{وند}\Pc{1353}{1364.5}{568}{1.2\%}
\Qt{1275.5}{569}{1316}{586}{G0}{پیش}\Pc{1275.5}{1316}{580}{0.62\%}
\Tile{1316}{578}{1336}{586}{R1}
\Tile{1336}{578}{1350}{586}{R1}
\Tile{1350}{578}{1364.5}{586}{WW}

% --- sugar
\Qt{1275.5}{604}{1309}{623}{R2}{قلرست}\Pc{1275.5}{1309}{616}{-1.48\%}
\Qt{1309}{604}{1333}{626}{G2}{قشکر}\Pc{1309}{1333}{619}{2.9\%}
\Qt{1333}{604}{1349}{623}{G3}{قثابت}\Pc{1333}{1349}{616}{2.9\%}
\Qt{1349}{604}{1364.5}{623}{R3}{قمرو}\Pc{1349}{1364.5}{616}{-2.4\%}
\Qt{1275.5}{623}{1309}{640}{G0}{قنیشا}\Pc{1275.5}{1309}{634}{0.5\%}
\Tile{1309}{626}{1333}{640}{R3}
\Qt{1333}{623}{1349}{640}{G2}{قهکمت}
\Qt{1349}{623}{1364.5}{640}{R3}{قشهد}

% --- paper, textile, drilling
\Tile{1365}{524}{1420}{553}{G0}\Lab{1392}{532}{541}{4.5}{چکاپا}{0.23\%}
\Tile{1420}{524}{1440}{553}{G3}\Lab{1430}{534}{546}{4}{چفیبر}{3\%}
\Qt{1440}{524}{1453}{553}{R3}{چکاوه}\Pc{1440}{1453}{544}{-2.4\%}
\Tile{1365}{571}{1430}{599}{G2}\node[text=white,inner sep=0pt,font=\fontsize{8}{8}\selectfont] at (axis cs:1395,587) {\ar{محتشم}};
\Tile{1430}{571}{1453}{596}{G2}\Lab{1441}{577}{585}{4}{نطرین}{2.88\%}
\Tile{1430}{596}{1449}{599}{R2}
\Tile{1449}{596}{1453}{599}{WW}
\Tile{1365}{617}{1453}{640}{G3}\node[text=white,inner sep=0pt,font=\fontsize{8}{8}\selectfont] at (axis cs:1409,630) {\ar{حفاری}};

% --- tiles, machinery, hotels
\Tile{1453}{524}{1482}{573}{R2}\Lab{1467}{541}{558}{5}{کسرامیک}{-1.8\%}
\Tile{1482}{524}{1498}{573}{G0}\Lab{1490}{541}{558}{3.8}{کسعدی}{0.5\%}
\Qt{1453}{573}{1483}{584}{R2}{کنور}
\Tile{1483}{573}{1498}{584}{WW}
\Tile{1498}{524}{1521}{562}{R3}\Lab{1509}{537}{549}{4.5}{تایرا}{-2.63\%}
\Tile{1521}{524}{1536}{562}{R1}\Lab{1528}{537}{549}{3.8}{تکمبا}{-0.5\%}
\Qt{1498}{562}{1516}{584}{G2}{تکنو}\Pc{1498}{1516}{576}{2.88\%}
\Qt{1516}{562}{1527}{584}{R1}{تپمپی}\Pc{1516}{1527}{576}{-0.4\%}
\Tile{1527}{562}{1536}{584}{WW}
\Tile{1536}{524}{1572}{568}{G1}\Lab{1554}{538}{553}{6.5}{سمگا}{1.12\%}
\Qt[4.5]{1536}{568}{1567}{584}{R3}{گکیش}\Pc{1536}{1567}{580}{-2.63\%}
\Tile{1567}{568}{1572}{584}{WW}

% --- last small groups
\Qt[5]{1453}{602}{1485}{613}{G2}{ساختی}
\Qt[5]{1485}{602}{1508}{613}{R3}{سپاس}
\Qt[4.5]{1453}{631}{1481}{640}{G0}{کاغذ}
\Qt[4.5]{1481}{631}{1503}{640}{G2}{کپارس}
\Tile{1503}{631}{1508}{640}{WW}
\Qt[6]{1508}{602}{1535}{619}{R1}{لابسا}
\Tile{1535}{602}{1544}{619}{WW}
\Tile{1508}{637}{1530}{640}{G1}
\Tile{1530}{637}{1544}{640}{WW}
\Tile{1544}{602}{1558}{611}{R1}
\Tile{1558}{602}{1572}{611}{G1}
\Tile{1544}{612}{1563}{627}{WW}
\Tile{1563}{612}{1572}{627}{WW}
\Tile{1544}{627}{1563}{638}{WW}
\Tile{1563}{627}{1572}{635}{WW}

% --- group headers last, so that long titles run over their neighbours
\Hd{12}{1}{430}{18}{12}{\beginR خودرو و ساخت قطعات\endR}
\Hd{12}{338}{430}{356}{12}{\beginR محصولات شیمیایی\endR}
\Hd{430}{1}{935}{18}{12}{\beginR فراورده های نفتی، کك و سوخت هسته ای\endR}
\Hd{430}{232}{935}{249}{12}{\beginR بانکها و موسسات اعتباری\endR}
\Hd{430}{435}{935}{453}{12}{\beginR سرمایه گذاریها\endR}
\Hd{935}{1}{1266}{18}{12}{\beginR فلزات اساسی\endR}
\Hd{1266}{1}{1385}{18}{9.5}{\beginR مواد و محصولات دارویی\endR}
\Hd{1385}{1}{1478.5}{18}{7}{\beginR سیمان، آهک و گچ\endR}
\Hd{1478.5}{1}{1572}{18}{6.5}{\beginR استخراج کانه های فلزی\endR}
\Hd{936}{291}{1133}{309}{10}{\beginR شرکتهای چند رشته ای صنعتی\endR}
\Hd{935}{414}{1133}{432}{10}{\beginR محصولات غذایی و آشامیدنی به جز قند و شکر\endR}
\Hd{935}{528}{1133}{546}{9}{\beginR انبوه سازی، املاک و مستغلات\endR}
\Hd{1133}{291}{1275}{308.5}{9.5}{\beginR فعالیتهای کمکی به نهادهای مالی واسط\endR}
\Hd{1133}{382}{1275}{400.7}{9}{\beginR عرضه برق، گاز، بخاروآب گرم\endR}
\Hd{1133}{474}{1275}{492}{8}{\beginR سایر محصولات کانی غیرفلزی\endR}
\Hd{1133}{561}{1275}{578}{8}{\beginR حمل ونقل، انبارداری و ارتباطات\endR}
\Hd{1355.5}{291}{1433.5}{308.5}{7.5}{\beginR رایانه و فعالیتهای وابسته به آن\endR}
\Hd{1275.5}{291}{1355.5}{308.5}{7.5}{\beginR ماشین آلات و دستگاههای برقی\endR}
\Hd{1433.5}{291}{1508}{308.5}{6}{\beginR زراعت و خدمات وابسته\endR}
\Hd{1508}{291}{1572}{308.5}{5}{\beginR ساخت محصولات فلزی\endR}
\Hd{1275.5}{421}{1364.5}{438.7}{8}{\beginR خدمات فنی و مهندسی\endR}
\Hd{1364.5}{421}{1418.5}{438.7}{4.5}{\beginR لاستیک و پلاستیک\endR}
\Hd{1418.5}{421}{1472}{438.7}{4.5}{\beginR سایر واسطه گریهای مالی\endR}
\Hd{1472}{421}{1522}{438.7}{4.5}{\beginR اطلاعات و ارتباطات\endR}
\Hd{1522}{421}{1572}{438.7}{4.5}{\beginR مخابرات\endR}
\Hd{1275.5}{505}{1364}{523}{8}{\beginR فعالیتهای بازنشستگی به جز تامین اجتماعی\endR}
\Hd{1275.5}{587}{1364}{604}{6}{\beginR قند و شکر\endR}
\Hd{1365}{507}{1453}{524}{5}{\beginR محصولات کاغذی\endR}
\Hd{1365}{553}{1453}{571}{5}{\beginR منسوجات\endR}
\Hd{1365}{599}{1453}{617}{3.8}{\beginR استخراج نفت گاز و خدمات جنبی جز اکتشاف\endR}
\Hd{1453}{507}{1498}{524}{4.2}{\beginR کاشی و سرامیک\endR}
\Hd{1498}{507}{1536}{524}{3.5}{\beginR ماشین آلات و تجهیزات\endR}
\Hd{1536}{507}{1572}{524}{3.5}{\beginR هتل و رستوران\endR}
\Hd{1453}{585}{1508}{602}{3.5}{\beginR انتشار، چاپ و تکثیر\endR}
\Hd{1508}{585}{1544}{602}{3.5}{\beginR سایر فعالیتها\endR}
\Hd{1544}{585}{1558}{602}{3}{}
\Hd{1558}{585}{1572}{602}{3}{}
\Hd{1453}{614}{1508}{631}{3.5}{\beginR استخراج سایر معادن\endR}
\Hd{1508}{620}{1544}{637}{3.5}{\beginR استخراج زغال\endR}

% page margin below the treemap
\addplot[fill=white,draw=none,forget plot] coordinates {(0,640)(1584,640)(1584,642)(0,642)} --cycle;
\end{axis}
\end{tikzpicture}
\end{document}
